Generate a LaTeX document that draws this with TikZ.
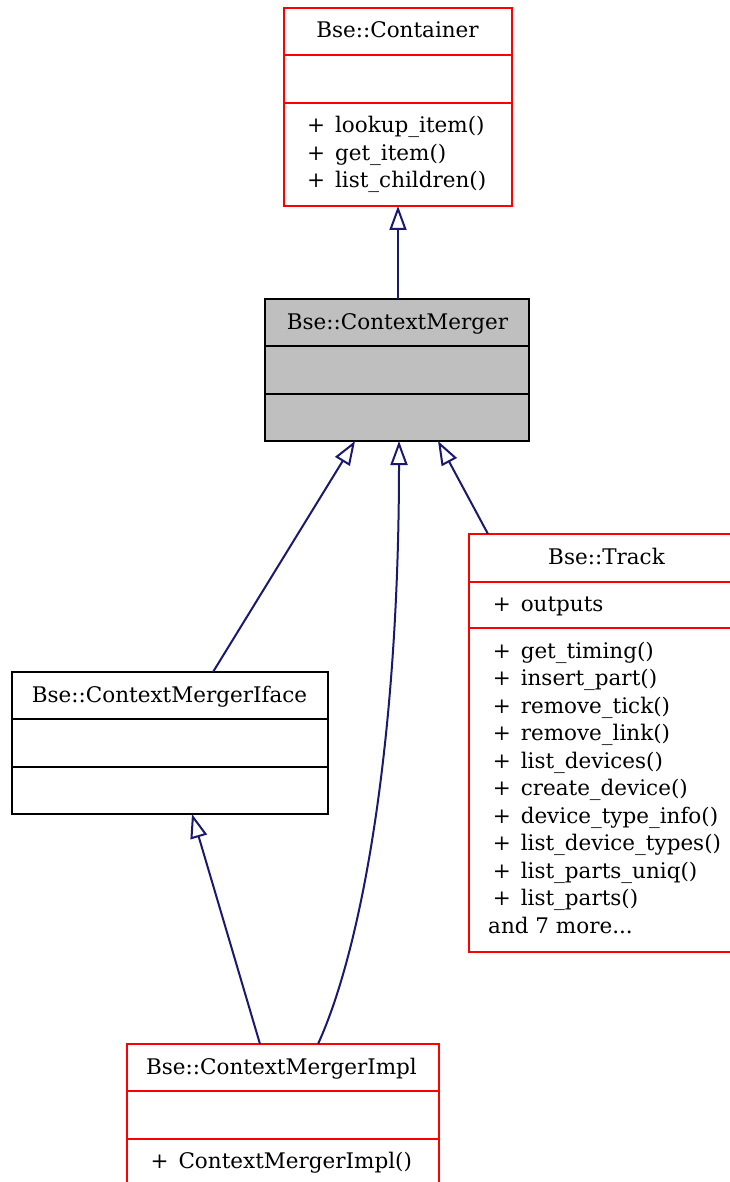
\documentclass[tikz,border=0pt]{standalone}
\usepackage{fontspec}
\setmainfont{DejaVu Serif}
\usetikzlibrary{arrows.meta,calc}
\definecolor{edgeblue}{HTML}{191970}
\definecolor{cmgray}{HTML}{BFBFBF}
\newcommand{\pub}{+\hspace{3pt} }
\tikzset{
  classbox/.style={draw, line width=1.8pt, inner sep=0pt, outer sep=0pt, anchor=north west},
  sepline/.style={line width=1.8pt},
  lbl/.style={inner sep=0pt, font=\fontsize{21.5pt}{27.5pt}\selectfont},
  member/.style={lbl, anchor=base west},
  classtitle/.style={lbl, anchor=base},
  inherit/.style={draw=edgeblue, line width=2pt, -{Triangle[open, length=24pt, width=17pt]}},
}
\begin{document}
\begin{tikzpicture}[x=1pt,y=-1pt]
\useasboundingbox (0,0) rectangle (729,1182);

% Bse::Container
\node[classbox, draw=red, minimum width=228pt, minimum height=198pt] (cont) at (284,8) {};
\draw[sepline, red] ($(cont.north west)+(0,47)$) -- ($(cont.north east)+(0,47)$)
                    ($(cont.north west)+(0,95)$) -- ($(cont.north east)+(0,95)$);
\node[classtitle] (contT) at (397.5,38) {Bse::Container};
\node[member] (contM1) at (307,133) {\pub lookup\_item()};
\node[member] (contM2) at (307,160.5) {\pub get\_item()};
\node[member] (contM3) at (307,188) {\pub list\_children()};

% Bse::ContextMerger
\node[classbox, draw=black, fill=cmgray, minimum width=264pt, minimum height=142pt] (cm) at (265,299) {};
\draw[sepline] ($(cm.north west)+(0,47)$) -- ($(cm.north east)+(0,47)$)
               ($(cm.north west)+(0,95)$) -- ($(cm.north east)+(0,95)$);
\node[classtitle] (cmT) at (397.5,329) {Bse::ContextMerger};

% Bse::ContextMergerIface
\node[classbox, draw=black, minimum width=316pt, minimum height=142pt] (iface) at (12,672) {};
\draw[sepline] ($(iface.north west)+(0,47)$) -- ($(iface.north east)+(0,47)$)
               ($(iface.north west)+(0,95)$) -- ($(iface.north east)+(0,95)$);
\node[classtitle] (ifaceT) at (169.5,702) {Bse::ContextMergerIface};

% Bse::Track
\node[classbox, draw=red, minimum width=266pt, minimum height=418pt] (track) at (469,534) {};
\draw[sepline, red] ($(track.north west)+(0,48)$) -- ($(track.north east)+(0,48)$)
                    ($(track.north west)+(0,94)$) -- ($(track.north east)+(0,94)$);
\node[classtitle] (trackT) at (606.5,564) {Bse::Track};
\node[member] (trackA1) at (492.7,611.5) {\pub outputs};
\foreach \txt [count=\i from 0] in {get\_timing(), insert\_part(), remove\_tick(),
    remove\_link(), list\_devices(), create\_device(), device\_type\_info(),
    list\_device\_types(), list\_parts\_uniq(), list\_parts()}
  \node[member] (trackM\i) at (492.7,658+27.5*\i) {\pub \txt};
\node[member] (trackMore) at (488,933) {and 7 more...};

% Bse::ContextMergerImpl
\node[classbox, draw=red, minimum width=312pt, minimum height=144pt] (impl) at (127,1044) {};
\draw[sepline, red] ($(impl.north west)+(0,47)$) -- ($(impl.north east)+(0,47)$)
                    ($(impl.north west)+(0,95)$) -- ($(impl.north east)+(0,95)$);
\node[classtitle] (implT) at (281.5,1074) {Bse::ContextMergerImpl};
\node[member] (implM1) at (150.5,1168.5) {\pub ContextMergerImpl()};

% inheritance edges
\draw[inherit] ([xshift=1pt]cm.north) -- (cont.south);
\draw[inherit] ([xshift=43pt]iface.north) -- ([xshift=-42pt]cm.south);
\draw[inherit] ([xshift=19pt]track.north west) -- ([xshift=41pt]cm.south);
\draw[inherit] ([xshift=35pt]impl.north) .. controls (362,948) and (399,740) .. ([xshift=2pt]cm.south);
\draw[inherit] ([xshift=-23pt]impl.north) -- ([xshift=22pt]iface.south);
\end{tikzpicture}
\end{document}
